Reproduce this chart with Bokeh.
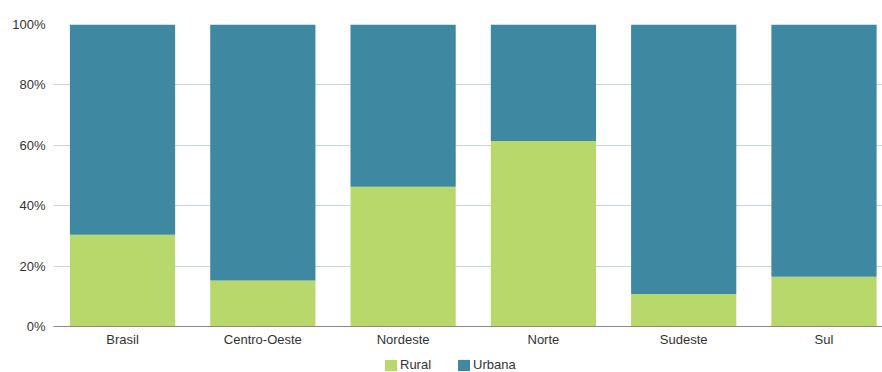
from bokeh.plotting import figure
from bokeh.layouts import column
from bokeh.models import (Range1d, FixedTicker, PrintfTickFormatter, Legend,
                          LegendItem, ColumnDataSource)
from bokeh.embed import file_html
from bokeh.resources import INLINE

# Share of population by area type (%) per region
regions = ["Brasil", "Centro-Oeste", "Nordeste", "Norte", "Sudeste", "Sul"]
rural = [30.4, 15.2, 46.3, 61.4, 10.8, 16.5]
urbana = [69.6, 84.8, 53.7, 38.6, 89.2, 83.5]
series = ["Rural", "Urbana"]
colors = ["#b9d86b", "#3e88a1"]
y_ticks = [0, 20, 40, 60, 80, 100]

pos = list(range(len(regions)))
src = ColumnDataSource(dict(x=pos, Rural=rural, Urbana=urbana))

FONT = "Liberation Sans"
TEXT_COLOR = "#333333"

p = figure(width=882, height=350, output_backend="svg", toolbar_location=None,
           x_range=Range1d(-0.492, 5.417), y_range=Range1d(0, 100),
           min_border_left=53, min_border_right=0, min_border_top=24,
           min_border_bottom=24)
p.outline_line_color = None

p.vbar_stack(series, x="x", width=0.75, color=colors, line_color=None, source=src)

# y axis: percentage labels only
p.yaxis.ticker = FixedTicker(ticks=y_ticks)
p.yaxis.formatter = PrintfTickFormatter(format="%d%%")
p.yaxis.axis_line_color = None
p.yaxis.major_tick_line_color = None
p.yaxis.major_tick_out = 0
p.yaxis.minor_tick_line_color = None
p.yaxis.major_label_standoff = 8
p.yaxis.major_label_text_font = FONT
p.yaxis.major_label_text_font_size = "13px"
p.yaxis.major_label_text_color = TEXT_COLOR

# x axis: region names under each bar
p.xaxis.ticker = FixedTicker(ticks=pos)
p.xaxis.major_label_overrides = {i: r for i, r in enumerate(regions)}
p.xaxis.axis_line_color = "#8a8a8a"
p.xaxis.major_tick_line_color = None
p.xaxis.major_tick_out = 0
p.xaxis.minor_tick_line_color = None
p.xaxis.major_label_standoff = 5
p.xaxis.major_label_text_font = FONT
p.xaxis.major_label_text_font_size = "13px"
p.xaxis.major_label_text_color = TEXT_COLOR

p.xgrid.grid_line_color = None
p.ygrid.ticker = FixedTicker(ticks=y_ticks)
p.ygrid.grid_line_color = "#c8d6e2"

# Legend strip under the chart (its frame lines up with the chart frame)
leg = figure(width=882, height=22, output_backend="svg", toolbar_location=None,
             x_axis_location=None, y_axis_location=None,
             x_range=Range1d(0, 1), y_range=Range1d(0, 1),
             min_border_left=0, min_border_right=0, min_border_top=0,
             min_border_bottom=0)
leg.outline_line_color = None
leg.grid.visible = False
swatches = leg.vbar_stack(series, x="x", width=0.75, color=colors,
                          line_color=None, source=src)
for r in swatches:
    r.visible = False
legend = Legend(items=[LegendItem(label=s, renderers=[r]) for s, r in zip(series, swatches)],
                orientation="horizontal", location=(330, 0),
                glyph_width=15, glyph_height=14, label_height=14,
                label_text_font=FONT, label_text_font_size="13px",
                label_text_color=TEXT_COLOR, label_standoff=2, spacing=25,
                padding=0, margin=0, border_line_color=None,
                background_fill_alpha=0, inactive_fill_alpha=0,
                click_policy="none")
leg.add_layout(legend, "center")

layout = column(p, leg, spacing=0)
open("out.html", "w").write(file_html(layout, INLINE))
